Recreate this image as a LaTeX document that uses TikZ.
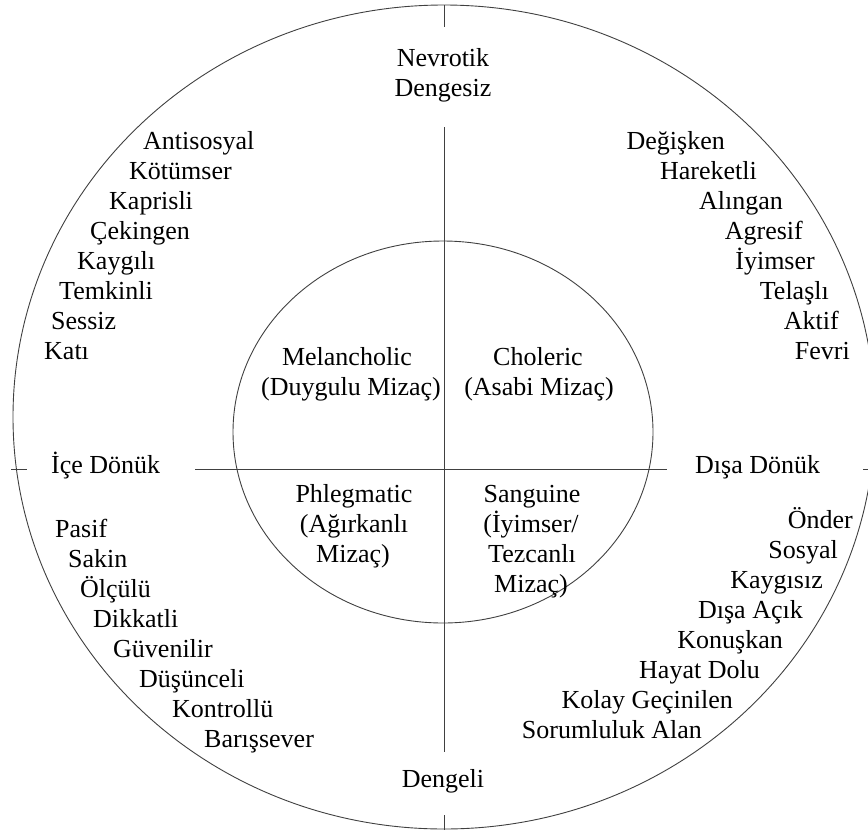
\documentclass[tikz,border=0pt]{standalone}
\usepackage{fontspec}
\setmainfont{Liberation Serif}
\usetikzlibrary{shapes.geometric}
\begin{document}
\begin{tikzpicture}[x=1pt,y=-1pt,
  every node/.style={font=\fontsize{26}{30}\selectfont, inner sep=0pt, text=black},
  ln/.style={draw=black!75, line width=0.9pt},
  lw/.style={anchor=base west},
  le/.style={anchor=base east},
  lc/.style={anchor=base}]
\useasboundingbox (0,0) rectangle (868,836);
\clip (0,0) rectangle (868,836);
% circles
\draw[ln] (444,417) ellipse [x radius=431pt, y radius=412pt];
\draw[ln] (443,432) ellipse [x radius=210pt, y radius=191pt];
% axes
\coordinate (vt) at (444,127);
\coordinate (vb) at (444,752);
\coordinate (hl) at (195,469);
\coordinate (hr) at (667,469);
\draw[ln] (vt) -- (vb);
\draw[ln] (hl) -- (hr);
% ticks
\coordinate (t1a) at (444,5);   \coordinate (t1b) at (444,27);
\coordinate (t2a) at (444,815); \coordinate (t2b) at (444,830);
\coordinate (t3a) at (11,469);  \coordinate (t3b) at (27,469);
\coordinate (t4a) at (863,469); \coordinate (t4b) at (868,469);
\draw[ln] (t1a) -- (t1b);
\draw[ln] (t2a) -- (t2b);
\draw[ln] (t3a) -- (t3b);
\draw[ln] (t4a) -- (t4b);
% axis labels
\node[lc] (nev) at (443,66) {Nevrotik};
\node[lc] (deng) at (443,96) {Dengesiz};
\node[lc] (dengeli) at (443,787) {Dengeli};
\node[lw] (ice) at (51,473) {İçe Dönük};
\node[lw] (disa) at (695,473) {Dışa Dönük};
% temperaments
\node[lc] (mel1) at (347,365) {Melancholic};
\node[lc] (mel2) at (351,395) {(Duygulu Mizaç)};
\node[lc] (cho1) at (538,365) {Choleric};
\node[lc] (cho2) at (539,395) {(Asabi Mizaç)};
\node[lc] (phl1) at (354,502) {Phlegmatic};
\node[lc] (phl2) at (354,532) {(Ağırkanlı};
\node[lc] (phl3) at (353,562) {Mizaç)};
\node[lc] (san1) at (532,502) {Sanguine};
\node[lc] (san2) at (531,532) {(İyimser/};
\node[lc] (san3) at (532,562) {Tezcanlı};
\node[lc] (san4) at (531,592) {Mizaç)};
% upper-left list
\foreach \x/\y/\t [count=\i] in {143/149/Antisosyal,129/179/Kötümser,109/209/Kaprisli,90/239/Çekingen,77/269/Kaygılı,59/299/Temkinli,51/329/Sessiz,44/359/Katı}
  \node[lw] (ul\i) at (\x,\y) {\t};
% upper-right list
\foreach \x/\y/\t [count=\i] in {725/149/Değişken,757/179/Hareketli,783/209/Alıngan,803/239/Agresif,815/269/İyimser,829/299/Telaşlı,839/329/Aktif,850/359/Fevri}
  \node[le] (ur\i) at (\x,\y) {\t};
% lower-left list
\foreach \x/\y/\t [count=\i] in {55/537/Pasif,68/567/Sakin,80/597/Ölçülü,93/627/Dikkatli,113/657/Güvenilir,139/687/Düşünceli,172/717/Kontrollü,204/747/Barışsever}
  \node[lw] (ll\i) at (\x,\y) {\t};
% lower-right list
\foreach \x/\y/\t [count=\i] in {853/528/Önder,838/558/Sosyal,823/588/Kaygısız,803/618/Dışa Açık,783/648/Konuşkan,760/678/Hayat Dolu,733/708/Kolay Geçinilen,702/738/Sorumluluk Alan}
  \node[le] (lr\i) at (\x,\y) {\t};
\end{tikzpicture}
\end{document}
